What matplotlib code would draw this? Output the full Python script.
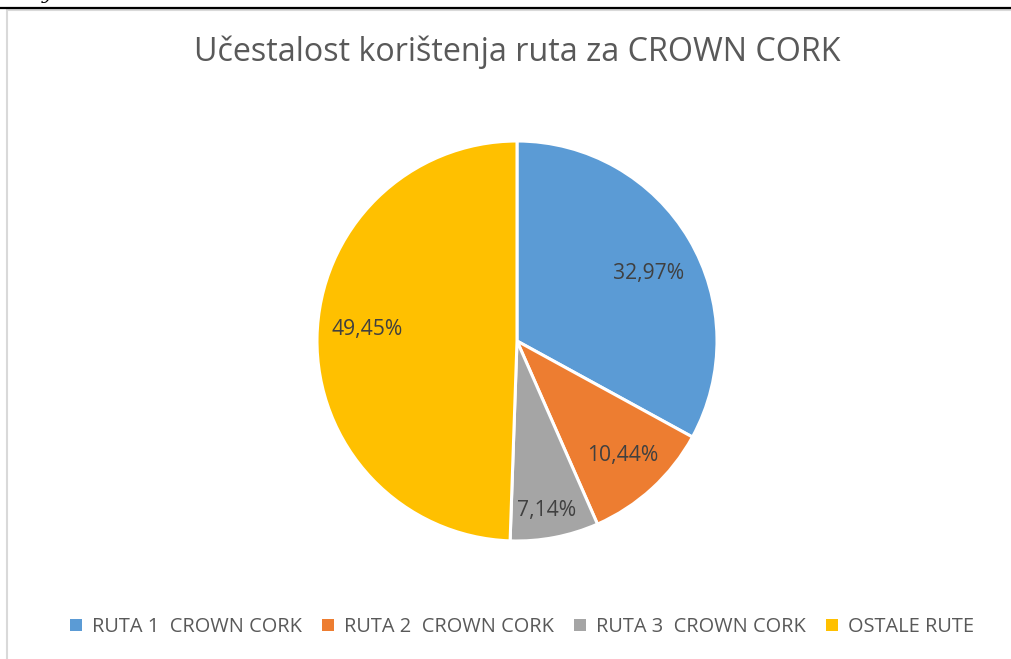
import matplotlib
matplotlib.use("Agg")
import matplotlib.pyplot as plt
from matplotlib.patches import Rectangle
from matplotlib.lines import Line2D
import numpy as np

categories = ["RUTA 1  CROWN CORK", "RUTA 2  CROWN CORK", "RUTA 3  CROWN CORK", "OSTALE RUTE"]
values = [32.97, 10.44, 7.14, 49.45]
colors = ["#5B9BD5", "#ED7D31", "#A5A5A5", "#FFC000"]
title = "Učestalost korištenja ruta za CROWN CORK"

# label placement (style): radial distance and angular nudge in degrees
label_dist = [0.745, 0.773, 0.85, 0.754]
label_nudge = [-2.6, 0.8, -1.0, -4.5]

W, H = 1012, 659
fig = plt.figure(figsize=(W / 100, H / 100), dpi=100)
fig.patch.set_facecolor("white")

font = "Open Sans"
txt_color = "#595959"

# page decorations: black rule and light grey chart frame
fig.add_artist(Line2D([0, 1], [1 - 7.5 / H, 1 - 7.5 / H], transform=fig.transFigure, color="black", lw=1.6))
fig.add_artist(Rectangle((7.5 / W, -0.05), 1.2, 1 - 10 / H + 0.05, transform=fig.transFigure,
                         fill=False, edgecolor="#D9D9D9", lw=1.5))
fig.text(47 / W, 1 + 6 / H, "y", fontsize=14, family="DejaVu Serif", style="italic", va="center", ha="center")

# pie axes: centre (517, 341), radius 200 px
cx, cy, r = 517, 341, 200
ax = fig.add_axes([(cx - r) / W, (H - cy - r) / H, 2 * r / W, 2 * r / H])
wedges, _ = ax.pie(values, colors=colors, startangle=90, counterclock=False,
                   wedgeprops=dict(edgecolor="white", linewidth=2.2), radius=1)
ax.set_xlim(-1, 1)
ax.set_ylim(-1, 1)
ax.set_aspect("equal")
ax.axis("off")

for w, v, d, n in zip(wedges, values, label_dist, label_nudge):
    ang = np.deg2rad((w.theta1 + w.theta2) / 2 + n)
    ax.text(d * np.cos(ang), d * np.sin(ang), f"{v:.2f}".replace(".", ",") + "%",
            ha="center", va="center_baseline", fontsize=15.2, color="#404040", family=font)

fig.text(cx / W, 1 - 52 / H, title, ha="center", va="center", fontsize=23.2, color=txt_color, family=font)

handles = [Rectangle((0, 0), 1, 1, facecolor=c, edgecolor="none") for c in colors]
leg = fig.legend(handles, categories, loc="center", bbox_to_anchor=(522 / W, 1 - 627 / H), ncol=4,
                 frameon=False, handlelength=0.6, handleheight=0.6, handletextpad=0.5, columnspacing=1.0,
                 prop=dict(family=font, size=14.4))
for t in leg.get_texts():
    t.set_color(txt_color)

fig.savefig("out.png", dpi=100, facecolor="white")
